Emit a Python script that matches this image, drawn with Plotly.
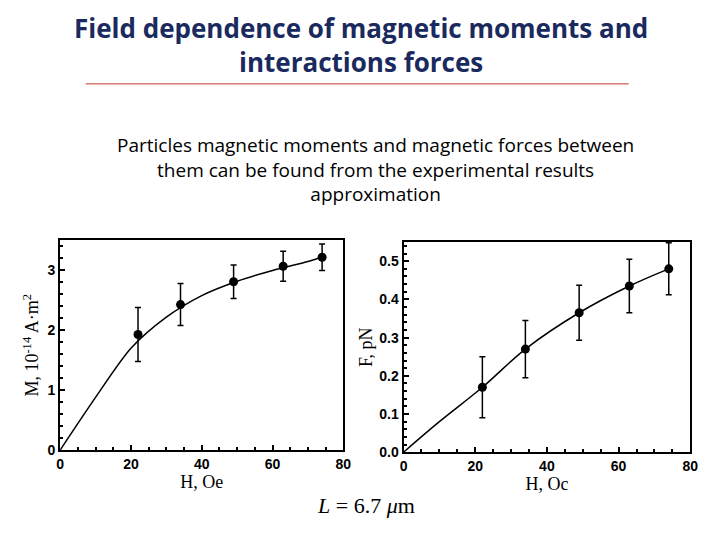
import plotly.graph_objects as go

H = [22, 34, 49, 63, 74]
M = [1.93, 2.43, 2.81, 3.07, 3.22]
M_err = [0.45, 0.35, 0.28, 0.25, 0.22]
M_fit_H = [0, 10, 20, 30, 40, 50, 60, 70, 74]
M_fit = [0, 0.88, 1.7, 2.22, 2.58, 2.82, 3.0, 3.15, 3.22]
F = [0.17, 0.27, 0.365, 0.435, 0.48]
F_err = [0.08, 0.075, 0.072, 0.07, 0.068]
F_fit_H = [0, 10, 22, 34, 49, 63, 74]
F_fit = [0, 0.08, 0.17, 0.27, 0.365, 0.435, 0.48]

fig = go.Figure()
fig.add_trace(go.Scatter(x=M_fit_H, y=M_fit, mode="lines", line=dict(color="black", width=1.5, shape="spline", smoothing=0.8), xaxis="x", yaxis="y"))
fig.add_trace(go.Scatter(x=H, y=M, mode="markers", marker=dict(color="black", size=9),
    error_y=dict(array=M_err, color="black", thickness=1.5, width=3), xaxis="x", yaxis="y"))
fig.add_trace(go.Scatter(x=F_fit_H, y=F_fit, mode="lines", line=dict(color="black", width=1.5, shape="spline"), xaxis="x2", yaxis="y2"))
fig.add_trace(go.Scatter(x=H, y=F, mode="markers", marker=dict(color="black", size=9),
    error_y=dict(array=F_err, color="black", thickness=1.5, width=3), xaxis="x2", yaxis="y2"))

tickf = dict(family="Liberation Sans", size=14, color="black", weight="bold")
titf = dict(family="Liberation Serif", size=18, color="black")
common = dict(showgrid=False, zeroline=False, showline=True, mirror=True, linecolor="black", linewidth=2,
              ticks="inside", ticklen=5, tickwidth=1.5, tickcolor="black", tickfont=tickf,
              minor=dict(ticks="inside", ticklen=3, tickcolor="black"))
fig.update_layout(
    width=720, height=540, showlegend=False, paper_bgcolor="white", plot_bgcolor="white",
    margin=dict(l=0, r=0, t=0, b=0),
    xaxis=dict(common, domain=[0.068, 0.468], range=[0, 80], dtick=20, anchor="y",
               title=dict(text="H, Oe", font=titf, standoff=2)),
    yaxis=dict(common, domain=[0.169, 0.563], range=[0, 3.5], dtick=1, anchor="x",
               title=dict(text="M, 10<sup>-14</sup> A·m<sup>2</sup>", font=titf, standoff=4)),
    xaxis2=dict(common, domain=[0.553, 0.958], range=[0, 80], dtick=20, anchor="y2",
                title=dict(text="H, Oc", font=titf, standoff=2)),
    yaxis2=dict(common, domain=[0.165, 0.56], range=[0, 0.55], dtick=0.1, tickformat=".1f", anchor="x2",
                title=dict(text="F, pN", font=titf, standoff=2)),
    shapes=[dict(type="line", xref="paper", yref="paper", x0=75/720, x1=627/720, y0=1-77/540, y1=1-77/540,
                 line=dict(color="#c0392b", width=1))],
    annotations=[
        dict(text="<b>Field dependence of magnetic moments and<br>interactions forces</b>", x=355/720, y=1.0,
             xref="paper", yref="paper", xanchor="center", yanchor="top", showarrow=False,
             font=dict(family="Open Sans", size=26, color="#1a2a5e")),
        dict(text="Particles magnetic moments and magnetic forces between<br>them can be found from the experimental results<br>approximation",
             x=370/720, y=1-124/540, xref="paper", yref="paper", xanchor="center", yanchor="top", showarrow=False,
             font=dict(family="Open Sans", size=19, color="black")),
        dict(text="<i>L</i> = 6.7 <i>μ</i>m", x=360/720, y=1-505/540, xref="paper", yref="paper",
             xanchor="center", yanchor="middle", showarrow=False,
             font=dict(family="Liberation Serif", size=22, color="black")),
    ],
)
fig.write_html("out.html")
